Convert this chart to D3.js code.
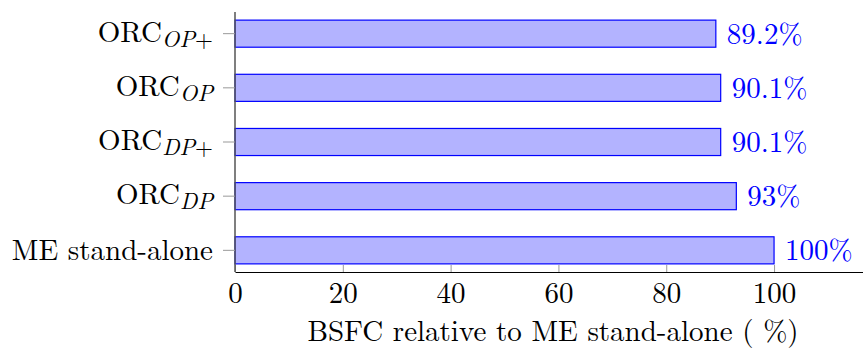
<!DOCTYPE html>
<html>
<head>
<meta charset="utf-8">
<script src="https://cdn.jsdelivr.net/npm/d3@7"></script>
<style>
  body { margin: 0; background: #fff; }
</style>
</head>
<body>
<div id="chart"></div>
<script>
// categories from top to bottom: main name, italic subscript, plain subscript suffix
const names = ['ORC', 'ORC', 'ORC', 'ORC', 'ME stand-alone'];
const subs = ['OP', 'OP', 'DP', 'DP', ''];
const subSuffix = ['+', '', '+', '', ''];
const values = [89.2, 90.1, 90.1, 93, 100];
const valueLabels = ['89.2%', '90.1%', '90.1%', '93%', '100%'];
const xTicks = [0, 20, 40, 60, 80, 100];
const xTitle = 'BSFC relative to ME stand-alone ( %)';

const font = '"Latin Modern Roman", "Liberation Serif", serif';
const fontSize = 29;

const width = 863, height = 349;
const svg = d3.select('#chart').append('svg')
  .attr('width', width)
  .attr('height', height)
  .attr('font-family', font);

const plotLeft = 235, plotTop = 12, plotBottom = 272;

const xScale = d3.scaleLinear()
  .domain([0, 116.5])
  .range([plotLeft, width]);

const ids = values.map((d, i) => i);
const yScale = d3.scaleBand()
  .domain(ids)
  .range([plotTop, plotBottom])
  .paddingInner(0.5)
  .paddingOuter(0.15);

// bars
svg.selectAll('rect.bar')
  .data(values)
  .enter()
  .append('rect')
  .attr('class', 'bar')
  .attr('x', xScale(0))
  .attr('y', (d, i) => yScale(i))
  .attr('width', d => xScale(d) - xScale(0))
  .attr('height', yScale.bandwidth())
  .attr('fill', '#b3b3ff')
  .attr('stroke', '#0000ff')
  .attr('stroke-width', 1.2);

// value labels
svg.selectAll('text.val')
  .data(values)
  .enter()
  .append('text')
  .attr('class', 'val')
  .attr('x', d => xScale(d) + 11)
  .attr('y', (d, i) => yScale(i) + yScale.bandwidth() / 2 + 10)
  .attr('fill', '#0000ff')
  .attr('font-family', font)
  .attr('font-size', fontSize)
  .text((d, i) => valueLabels[i]);

// x axis
const xAxis = d3.axisBottom(xScale)
  .tickValues(xTicks)
  .tickSize(0)
  .tickPadding(0)
  .tickFormat(d3.format('d'));

const gx = svg.append('g')
  .attr('transform', `translate(0, ${plotBottom})`)
  .call(xAxis)
  .attr('font-family', font);
gx.select('.domain').attr('stroke', '#000').attr('stroke-width', 1.2);
gx.selectAll('.tick text')
  .attr('dy', null)
  .attr('y', 31)
  .attr('font-size', fontSize)
  .attr('font-family', font)
  .attr('fill', '#000');
gx.selectAll('.tick')
  .append('line')
  .attr('y1', 0)
  .attr('y2', -7)
  .attr('stroke', '#999');

// y axis
svg.append('line')
  .attr('x1', plotLeft).attr('x2', plotLeft)
  .attr('y1', plotTop).attr('y2', plotBottom)
  .attr('stroke', '#555')
  .attr('stroke-width', 1.5);

svg.selectAll('line.ytick')
  .data(ids)
  .enter()
  .append('line')
  .attr('class', 'ytick')
  .attr('x1', plotLeft - 12)
  .attr('x2', plotLeft)
  .attr('y1', i => yScale(i) + yScale.bandwidth() / 2)
  .attr('y2', i => yScale(i) + yScale.bandwidth() / 2)
  .attr('stroke', '#999');

const yLabels = svg.selectAll('text.ylab')
  .data(ids)
  .enter()
  .append('text')
  .attr('class', 'ylab')
  .attr('x', 213)
  .attr('y', i => yScale(i) + yScale.bandwidth() / 2 + (subs[i] ? 8 : 10))
  .attr('text-anchor', 'end')
  .attr('font-family', font)
  .attr('font-size', fontSize)
  .attr('fill', '#000');

yLabels.append('tspan').text(i => names[i]);
yLabels.filter(i => subs[i] !== '')
  .append('tspan')
  .attr('dy', 5)
  .attr('font-size', 23)
  .attr('font-style', 'italic')
  .text(i => subs[i]);
yLabels.filter(i => subSuffix[i] !== '')
  .append('tspan')
  .attr('font-size', 23)
  .text(i => subSuffix[i]);

// x axis title
svg.append('text')
  .attr('x', 553)
  .attr('y', 341)
  .attr('text-anchor', 'middle')
  .attr('font-family', font)
  .attr('font-size', fontSize)
  .attr('fill', '#000')
  .text(xTitle);
</script>
</body>
</html>
